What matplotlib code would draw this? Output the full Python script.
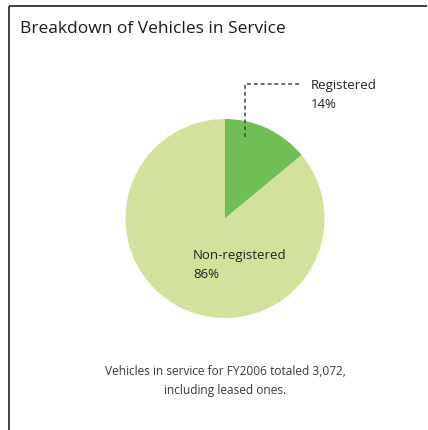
import matplotlib
matplotlib.use("Agg")
import matplotlib.pyplot as plt

# Data
categories = ["Registered", "Non-registered"]
shares = [14, 86]
colors = ["#6fbe56", "#d2e29c"]
title = "Breakdown of Vehicles in Service"
note = "Vehicles in service for FY2006 totaled 3,072,\nincluding leased ones."

W, H = 428, 431
plt.rcParams["font.family"] = ["Open Sans", "DejaVu Sans"]

fig = plt.figure(figsize=(W / 100, H / 100), dpi=100)
ax = fig.add_axes([0, 0, 1, 1])

def py(y):
    # convert a top-down pixel row to the bottom-up axis coordinate
    return H - y

cx, cy, r = 225, 219.5, 99.5
ax.pie(shares, colors=colors, startangle=90, counterclock=False,
       center=(cx, py(cy)), radius=r,
       wedgeprops=dict(linewidth=0))

ax.set_xlim(0, W)
ax.set_ylim(0, H)
ax.set_aspect("equal")
ax.axis("off")

# panel frame: top and left rules
ax.plot([9, 427], [py(6.5), py(6.5)], color="#333333", lw=1.3, solid_capstyle="butt")
ax.plot([9, 9], [py(6.5), py(431)], color="#333333", lw=1.3, solid_capstyle="butt")

ax.text(20, py(29), title, fontsize=12.5, color="#1a1a1a", va="center", ha="left")

# leader for the small slice
lx = 245
ax.plot([lx, lx, 300], [py(138), py(85), py(85)], color="#444444", lw=1.1,
        linestyle=(0, (2.5, 2)))
ax.text(311, py(85), categories[0], fontsize=9.5, color="#222222", va="center", ha="left")
ax.text(311, py(105), f"{shares[0]}%", fontsize=9.5, color="#222222", va="center", ha="left")

ax.text(193, py(255), categories[1], fontsize=9.5, color="#222222", va="center", ha="left")
ax.text(193, py(275), f"{shares[1]}%", fontsize=9.5, color="#222222", va="center", ha="left")

ax.text(225, py(381), note, fontsize=8.6, color="#3a3a3a", va="center", ha="center",
        linespacing=1.6)

fig.savefig("out.png", dpi=100)
